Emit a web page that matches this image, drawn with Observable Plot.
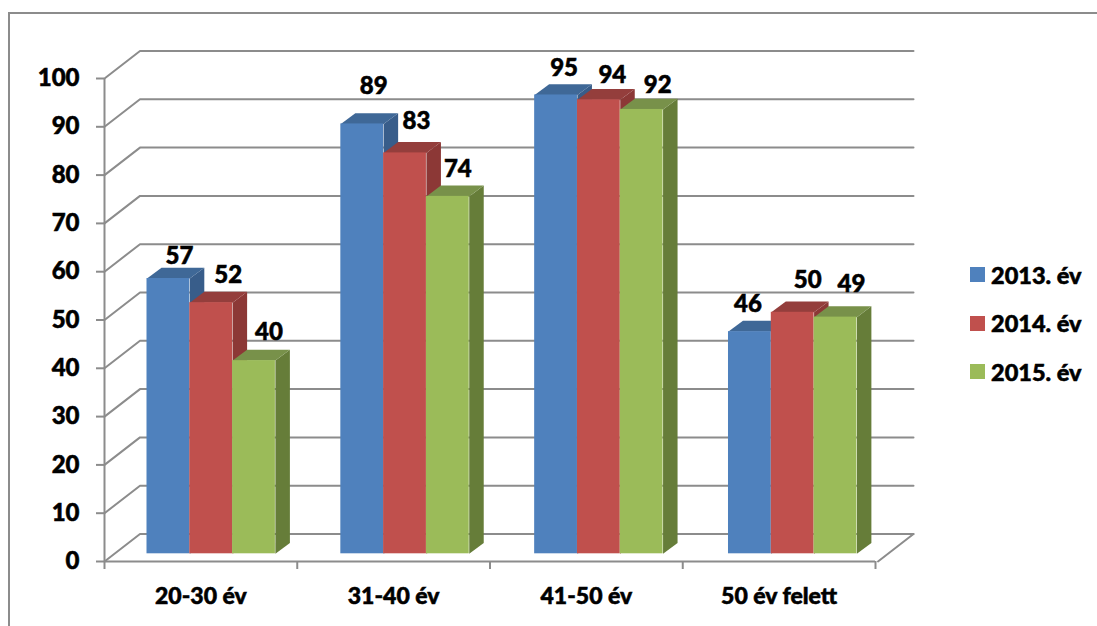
<!DOCTYPE html>
<html>
<head>
<meta charset="utf-8">
<script src="https://cdn.jsdelivr.net/npm/d3@7"></script>
<script src="https://cdn.jsdelivr.net/npm/@observablehq/plot@0.6"></script>
<style>
  html,body{margin:0;padding:0;background:#fff;overflow:hidden;width:1097px;height:626px}
  #wrap{position:relative;width:1097px;height:626px;overflow:hidden}
  #frame{position:absolute;left:8px;top:12px;width:1200px;height:800px;border:2px solid #8c8c8c;box-sizing:border-box}
  #chart{position:absolute;left:0;top:0}
  #chart svg text{stroke:#000;stroke-width:.55px}
  #legend{position:absolute;left:970px;top:0;font:900 23.5px Lato,sans-serif;color:#000;-webkit-text-stroke:.55px #000}
  .item{position:absolute;left:0;white-space:nowrap;height:30px;line-height:30px}
  .sw{position:absolute;left:0;top:7.5px;width:15px;height:15px}
  .lb{position:absolute;left:21px;top:0}
</style>
</head>
<body>
<div id="wrap"><div id="frame"></div><div id="chart"></div><div id="legend"></div></div>
<script>
const categories = ["20-30 év","31-40 év","41-50 év","50 év felett"];
const years = ["2013. év","2014. év","2015. év"];
const values2013 = [57,89,95,46];
const values2014 = [52,83,94,50];
const values2015 = [40,74,92,49];
const yTicks = [0,10,20,30,40,50,60,70,80,90,100];

// styling and 3-D layout (in scale units)
const front = ["#4F81BD","#C0504D","#9BBB59"];
const topCol = ["#3F6897","#943E3C","#78914A"];
const sideCol = ["#385D8A","#8C3836","#667D39"];
const gridCol = "#8c8c8c";
const PX = 192.75, PY = 4.83;          // pixels per scale unit
const wallDX = 35.5/PX, wallDY = 27.5/PY;
const barDX = 14.5/PX, barDY = 10.8/PY, floorY = 7.7/PY;
const barW = 42.8/PX, barStart = 42.5/PX, barPitch = 193.83/PX;
const font = "Lato, sans-serif";
// hand-placed data label nudges, px from the bar's front-top centre: [right, up]
const nudge = [[[11,22],[17,27],[15,28]],[[11.5,38],[11.5,32],[10,27]],[[8,27],[13.5,24],[16,24]],[[-2,27],[15,32],[16,33]]];

const series = [values2013,values2014,values2015];
const rows = series.flatMap((vals,s)=>vals.map((v,c)=>{
  const x1 = barStart + c*barPitch + s*barW;
  return {s,c,v,x1,x2:x1+barW,y1:floorY,y2:v+floorY,
    lx:x1+barW/2+nudge[c][s][0]/PX, ly:v+floorY+nudge[c][s][1]/PY};
}));
const side = d=>[[d.x2,d.y1],[d.x2+barDX,d.y1+barDY],[d.x2+barDX,d.y2+barDY],[d.x2,d.y2]].map(p=>({id:d.c,x:p[0],y:p[1]}));
const topF = d=>[[d.x1,d.y2],[d.x1+barDX,d.y2+barDY],[d.x2+barDX,d.y2+barDY],[d.x2,d.y2]].map(p=>({id:d.c,x:p[0],y:p[1]}));

const wallEnd = (913-104)/PX;
const grid = yTicks.flatMap(t=>[{t,x:0,y:t},{t,x:wallDX,y:t+wallDY},{t,x:wallEnd,y:t+wallDY}]);
const line = {stroke:gridCol,strokeWidth:2};

const barMarks = [0,1,2].flatMap(s=>{
  const r = rows.filter(d=>d.s===s);
  return [
    Plot.line(r.flatMap(side),{x:"x",y:"y",z:"id",fill:sideCol[s],stroke:"none",curve:"linear-closed"}),
    Plot.line(r.flatMap(topF),{x:"x",y:"y",z:"id",fill:topCol[s],stroke:"none",curve:"linear-closed"}),
    Plot.rect(r,{x1:"x1",x2:"x2",y1:"y1",y2:"y2",fill:front[s]})
  ];
});

const plot = Plot.plot({
  width:1097,height:626,marginLeft:104,marginRight:222,marginTop:78,marginBottom:65,
  style:{background:"transparent",overflow:"visible"},
  x:{domain:[0,4],axis:null},
  y:{domain:[0,100],axis:null},
  marks:[
    Plot.line(grid,{x:"x",y:"y",z:"t",...line}),
    Plot.line([{x:wallEnd-wallDX,y:0},{x:wallEnd,y:wallDY}],{x:"x",y:"y",...line}),
    Plot.ruleX([0],{y1:0,y2:100,...line}),
    Plot.ruleY([0],{x1:0,x2:4,...line}),
    Plot.ruleY(yTicks,{x1:-8/PX,x2:0,...line}),
    Plot.ruleX([0,1,2,3,4],{y1:0,y2:-8/PY,...line}),
    ...barMarks,
    Plot.axisY({ticks:yTicks,tickSize:0,tickPadding:25,color:"#000",fontSize:24,fontWeight:900,fontFamily:font}),
    Plot.axisX({ticks:[0.5,1.5,2.5,3.5],tickFormat:t=>categories[t-0.5],tickSize:0,tickPadding:26,color:"#000",fontSize:23,fontWeight:900,fontFamily:font,anchor:"bottom"}),
    Plot.text(rows,{x:"lx",y:"ly",text:"v",fill:"#000",fontSize:24,fontWeight:900,fontFamily:font})
  ]
});
document.getElementById("chart").append(plot);

const legend = document.getElementById("legend");
years.forEach((y,i)=>{
  const it = document.createElement("div");
  it.className="item"; it.style.top=(259.5+i*48.5)+"px";
  it.innerHTML=`<span class="sw" style="background:${front[i]}"></span><span class="lb">${y}</span>`;
  legend.append(it);
});
</script>
</body>
</html>
